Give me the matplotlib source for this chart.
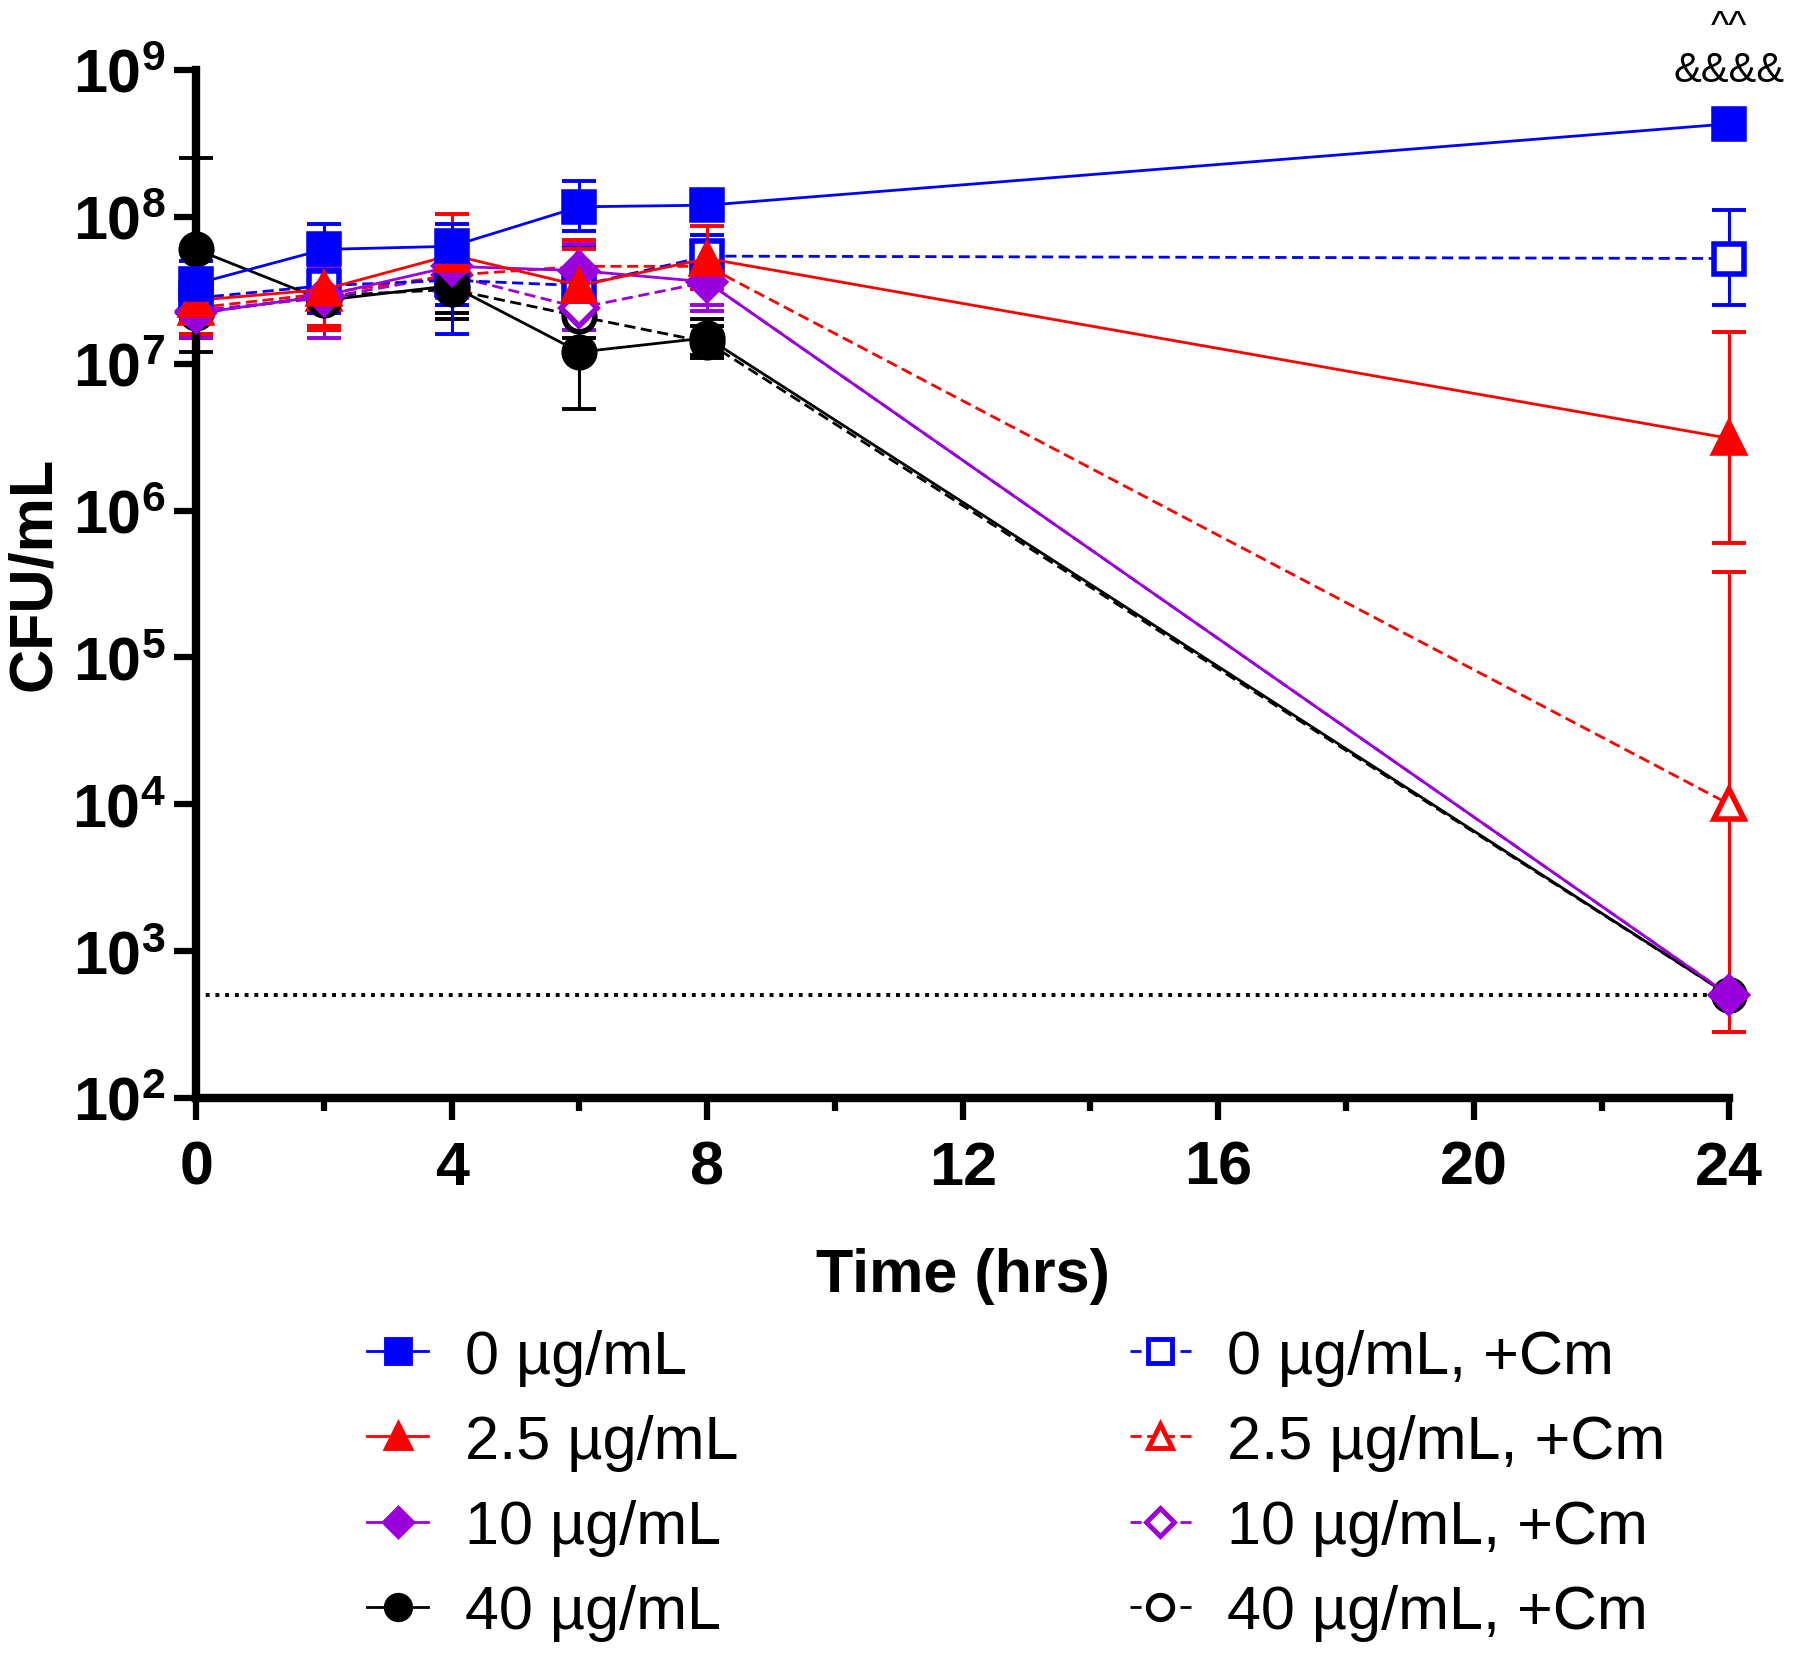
import numpy as np
import matplotlib
matplotlib.use("Agg")
import matplotlib.pyplot as plt
from matplotlib.lines import Line2D

plt.rcParams['font.family'] = ['Liberation Sans', 'DejaVu Sans']
plt.rcParams['mathtext.fontset'] = 'custom'
plt.rcParams['mathtext.rm'] = 'Liberation Sans'
plt.rcParams['mathtext.bf'] = 'Liberation Sans:bold'

times = [0, 2, 4, 6, 8, 24]

# mean CFU/mL and error-bar ends
cfu_0 = [3.5e7, 6.0e7, 6.3e7, 1.17e8, 1.2e8, 4.3e8]
lo_0 = [2.3e7, 4.0e7, 1.6e7, 8.0e7, 1.0e8, 4.3e8]
hi_0 = [5.0e7, 9.0e7, 9.0e7, 1.75e8, 1.4e8, 4.3e8]

cfu_25 = [2.7e7, 3.2e7, 5.5e7, 3.4e7, 5.2e7, 3.1e6]
lo_25 = [1.6e7, 1.7e7, 3.0e7, 2.0e7, 3.5e7, 6.0e5]
hi_25 = [4.0e7, 6.0e7, 1.05e8, 6.0e7, 8.7e7, 1.65e7]

cfu_10 = [2.2e7, 2.9e7, 4.6e7, 4.3e7, 3.6e7, 5e2]
lo_10 = [1.5e7, 1.5e7, 3.0e7, 2.5e7, 2.3e7, 5e2]
hi_10 = [3.0e7, 5.0e7, 7.0e7, 6.5e7, 5.0e7, 5e2]

cfu_40 = [6.0e7, 2.7e7, 3.4e7, 1.2e7, 1.5e7, 5e2]
lo_40 = [1.2e7, 1.7e7, 2.0e7, 4.9e6, 1.15e7, 5e2]
hi_40 = [2.5e8, 4.0e7, 5.0e7, 2.5e7, 2.0e7, 5e2]

cfu_0cm = [2.8e7, 3.4e7, 3.7e7, 3.4e7, 5.4e7, 5.2e7]
lo_0cm = [2.0e7, 2.2e7, 2.5e7, 2.3e7, 3.8e7, 2.5e7]
hi_0cm = [4.0e7, 5.0e7, 5.5e7, 6.2e7, 7.5e7, 1.12e8]

cfu_25cm = [2.4e7, 3.0e7, 4.0e7, 4.6e7, 4.6e7, 1.0e4]
lo_25cm = [1.6e7, 1.8e7, 2.5e7, 3.0e7, 3.2e7, 2.8e2]
hi_25cm = [3.5e7, 5.0e7, 6.5e7, 7.0e7, 6.5e7, 3.8e5]

cfu_10cm = [2.3e7, 2.8e7, 4.0e7, 2.4e7, 3.6e7, 5e2]
lo_10cm = [1.6e7, 1.7e7, 2.8e7, 1.7e7, 2.5e7, 5e2]
hi_10cm = [3.2e7, 4.5e7, 5.5e7, 3.4e7, 5.0e7, 5e2]

cfu_40cm = [2.2e7, 2.9e7, 3.2e7, 2.1e7, 1.4e7, 5e2]
lo_40cm = [1.5e7, 1.8e7, 2.2e7, 1.5e7, 1.1e7, 5e2]
hi_40cm = [3.0e7, 4.0e7, 4.5e7, 2.9e7, 1.8e7, 5e2]

lod = 500

blue = '#0000ff'
red = '#ff0000'
purple = '#9900dd'
black = '#000000'

series = [
    # label, y, lo, hi, color, marker, filled, dashed
    ('40 µg/mL, +Cm', cfu_40cm, lo_40cm, hi_40cm, black, 'o', False, True),
    ('10 µg/mL, +Cm', cfu_10cm, lo_10cm, hi_10cm, purple, 'D', False, True),
    ('2.5 µg/mL, +Cm', cfu_25cm, lo_25cm, hi_25cm, red, '^', False, True),
    ('0 µg/mL, +Cm', cfu_0cm, lo_0cm, hi_0cm, blue, 's', False, True),
    ('40 µg/mL', cfu_40, lo_40, hi_40, black, 'o', True, False),
    ('10 µg/mL', cfu_10, lo_10, hi_10, purple, 'D', True, False),
    ('2.5 µg/mL', cfu_25, lo_25, hi_25, red, '^', True, False),
    ('0 µg/mL', cfu_0, lo_0, hi_0, blue, 's', True, False),
]

fig = plt.figure(figsize=(18, 16.58), dpi=100)
ax = fig.add_axes([0.109, 0.3372, 0.8517, 0.62])

ax.plot([0, 24], [lod, lod], color='black', linestyle=(0, (1, 1.5)), lw=2.8, zorder=1)

handles = {}
for lab, y, lo, hi, c, m, filled, dashed in series:
    y = np.array(y)
    yerr = [y - np.array(lo), np.array(hi) - y]
    ms = 18 if m == 'D' else 22
    ax.errorbar(times, y, yerr=yerr, fmt='none', ecolor=c, elinewidth=2.2,
                capsize=12, capthick=2.8, clip_on=False, zorder=2)
    ls = (0, (4, 2)) if dashed else '-'
    ax.plot(times, y, color=c, lw=2, linestyle=ls, marker=m, markersize=ms,
            markerfacecolor=c if filled else 'white', markeredgecolor=c,
            markeredgewidth=4, clip_on=False, zorder=3)
    handles[lab] = Line2D([], [], color=c, lw=2, linestyle=ls, marker=m,
                          markersize=ms * 0.8,
                          markerfacecolor=c if filled else 'white',
                          markeredgecolor=c, markeredgewidth=3.5)

ax.set_yscale('log')
ax.set_ylim(1e2, 1e9)
ax.set_xlim(0, 24)
ax.set_yticks([10.0 ** k for k in range(2, 10)])
ax.set_yticklabels([r'$\mathbf{10^{%d}}$' % k for k in range(2, 10)])
ax.yaxis.set_minor_locator(matplotlib.ticker.NullLocator())
ax.set_xticks([0, 4, 8, 12, 16, 20, 24])
ax.set_xticks([2, 6, 10, 14, 18, 22], minor=True)

for s in ['top', 'right']:
    ax.spines[s].set_visible(False)
for s in ['left', 'bottom']:
    ax.spines[s].set_linewidth(6)
ax.tick_params(axis='both', which='major', width=4.5, length=16, labelsize=44, pad=6)
ax.tick_params(axis='x', which='major', pad=14)
ax.tick_params(axis='x', which='minor', width=4.5, length=9)
for t in ax.get_xticklabels():
    t.set_fontweight('bold')

ax.set_xlabel('Time (hrs)', fontsize=44, fontweight='bold', labelpad=36)
ax.set_ylabel('CFU/mL', fontsize=44, fontweight='bold', labelpad=4)
ax.yaxis.set_label_coords(-0.087, 0.511)

# significance marks above the 24 h point
x24 = ax.transData.transform((24, 1e9))[0] / fig.bbox.width
ax.text(24, 1.0e9, '&&&&', ha='center', va='center', fontsize=30, clip_on=False)
fig.text(x24, 0.994, '^^', ha='center', va='top', fontsize=28)

order = ['0 µg/mL', '2.5 µg/mL', '10 µg/mL', '40 µg/mL',
         '0 µg/mL, +Cm', '2.5 µg/mL, +Cm', '10 µg/mL, +Cm', '40 µg/mL, +Cm']
fig.legend([handles[k] for k in order], order, loc='upper left',
           bbox_to_anchor=(0.204, 0.198), ncol=2, frameon=False, fontsize=44,
           handlelength=1.0, handletextpad=0.6, labelspacing=0.46,
           columnspacing=6.4, borderpad=0, borderaxespad=0)

fig.savefig('out.png', dpi=100)
